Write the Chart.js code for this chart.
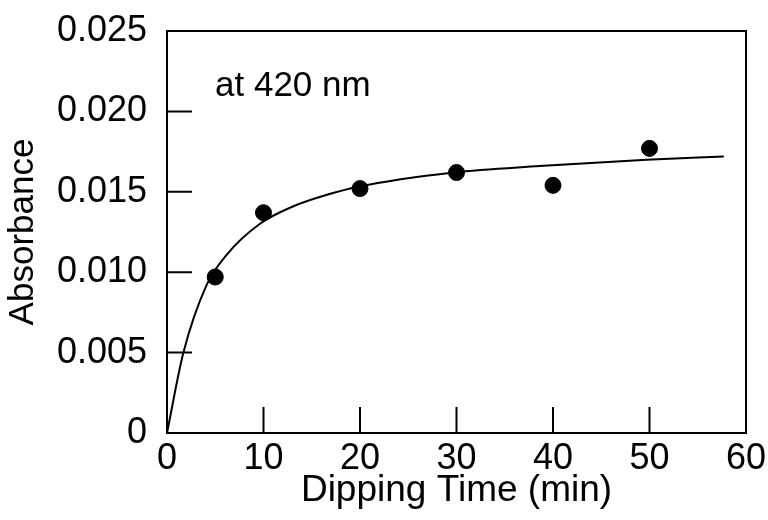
<!DOCTYPE html>
<html>
<head>
<meta charset="utf-8">
<script src="https://cdn.jsdelivr.net/npm/chart.js@4/dist/chart.umd.min.js"></script>
<style>
  html, body { margin: 0; padding: 0; background: #fff; }
  #wrap { width: 768px; height: 520px; }
</style>
</head>
<body>
<div id="wrap"><canvas id="absChart" width="768" height="520"></canvas></div>
<script>
// measured points
var dipTime = [5, 10, 20, 30, 40, 50];
var absorbance = [0.0097, 0.0137, 0.0152, 0.0162, 0.0154, 0.0177];

// fitted curve
var curveTime = [0, 1.7, 4.1, 6.2, 9.6, 13.1, 16.5, 19.7, 29.7, 38.6, 49.7, 57.7];
var curveAbs = [0, 0.0050, 0.0092, 0.0111, 0.0130, 0.0141, 0.0148, 0.0153, 0.0162, 0.0166, 0.0170, 0.0172];

var xTicks = [0, 10, 20, 30, 40, 50, 60];
var yTicks = [0, 0.005, 0.010, 0.015, 0.020, 0.025];

var FONT = "'Liberation Sans', Arial, Helvetica, sans-serif";

function toXY(xs, ys) {
  var out = [];
  for (var i = 0; i < xs.length; i++) out.push({x: xs[i], y: ys[i]});
  return out;
}

// frame + inward ticks + label inside plot
var framePlugin = {
  id: 'frame',
  afterDraw: function(chart) {
    var ctx = chart.ctx, a = chart.chartArea;
    var xs = chart.scales.x, ys = chart.scales.y;
    ctx.save();
    ctx.strokeStyle = '#000';
    ctx.lineWidth = 2;
    ctx.strokeRect(a.left, a.top, a.right - a.left, a.bottom - a.top);
    ctx.beginPath();
    yTicks.forEach(function(v) {
      if (v <= 0 || v >= 0.025) return;
      var py = ys.getPixelForValue(v);
      ctx.moveTo(a.left, py);
      ctx.lineTo(a.left + 25, py);
    });
    xTicks.forEach(function(v) {
      if (v <= 0 || v >= 60) return;
      var px = xs.getPixelForValue(v);
      ctx.moveTo(px, a.bottom);
      ctx.lineTo(px, a.bottom - 26);
    });
    ctx.stroke();
    ctx.fillStyle = '#000';
    ctx.font = '35px ' + FONT;
    ctx.textBaseline = 'alphabetic';
    ctx.fillText('at 420 nm', a.left + 48, a.top + 65);
    ctx.restore();
  }
};

var ctxA = document.getElementById('absChart').getContext('2d');
var absChart = new Chart(ctxA, {
  type: 'scatter',
  data: {
    datasets: [{
      type: 'line',
      label: 'fit',
      data: toXY(curveTime, curveAbs),
      borderColor: '#000',
      borderWidth: 2,
      pointRadius: 0,
      fill: false,
      cubicInterpolationMode: 'monotone'
    }, {
      label: 'Absorbance',
      data: toXY(dipTime, absorbance),
      backgroundColor: '#000',
      borderColor: '#000',
      pointRadius: 8,
      pointHoverRadius: 8
    }]
  },
  options: {
    responsive: false,
    animation: false,
    layout: { padding: { left: 0, right: 22, top: 31, bottom: 0 } },
    plugins: {
      legend: { display: false },
      tooltip: { enabled: false }
    },
    scales: {
      x: {
        type: 'linear',
        min: 0,
        max: 60,
        afterBuildTicks: function(scale) {
          scale.ticks = xTicks.map(function(v) { return {value: v}; });
        },
        afterFit: function(scale) {
          scale.height = 87;
          scale.paddingLeft = 0;
          scale.paddingRight = 0;
        },
        grid: { display: false, drawTicks: false },
        border: { display: true, color: '#000', width: 2 },
        ticks: {
          padding: 4,
          color: '#000',
          font: { family: FONT, size: 36 },
          maxRotation: 0
        },
        title: {
          display: true,
          text: 'Dipping Time (min)',
          color: '#000',
          font: { family: FONT, size: 37 },
          padding: { top: 0, bottom: 7 }
        }
      },
      y: {
        type: 'linear',
        min: 0,
        max: 0.025,
        afterBuildTicks: function(scale) {
          scale.ticks = yTicks.map(function(v) { return {value: v}; });
        },
        afterFit: function(scale) {
          scale.width = 167;
          scale.paddingTop = 0;
          scale.paddingBottom = 0;
        },
        grid: { display: false, drawTicks: false },
        border: { display: true, color: '#000', width: 2 },
        ticks: {
          padding: 20,
          color: '#000',
          font: { family: FONT, size: 36 },
          callback: function(v) { return v === 0 ? '0' : v.toFixed(3); }
        },
        title: {
          display: true,
          text: 'Absorbance',
          color: '#000',
          font: { family: FONT, size: 35 },
          padding: { top: 2, bottom: 0 }
        }
      }
    }
  },
  plugins: [framePlugin]
});
</script>
</body>
</html>
